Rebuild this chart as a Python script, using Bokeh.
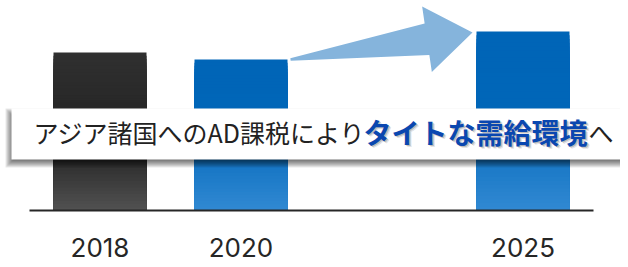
import numpy as np
from bokeh.plotting import figure
from bokeh.models import Range1d, Label
from bokeh.core.properties import value
from bokeh.embed import file_html
from bokeh.resources import INLINE

# ---- data ----
years = ["2018", "2020", "2025"]
positions = [0, 1, 3]          # category slots (gap between 2020 and 2025)
values = [158, 151, 179]       # relative volume (arbitrary units)
bar_kinds = ["dark", "blue", "blue"]
headline_regular = "アジア諸国へのAD課税により"
headline_bold = "タイトな需給環境"
headline_tail = "へ"

# ---- layout ----
PX_X = 141.0
FRAME_W = 620
FRAME_H = 259
BASE_PX = 210
x_start = -99.5 / PX_X
x_end = x_start + FRAME_W / PX_X
y_end = BASE_PX
y_start = BASE_PX - FRAME_H
BAR_W = 93 / PX_X


def dx(page_x):
    return x_start + page_x / PX_X


def dy(page_y):
    return y_end - page_y


def px(xd):
    return (xd - x_start) * PX_X


def py(yd):
    return y_end - yd


def hex2rgb(h):
    h = h.lstrip("#")
    return np.array([int(h[i:i + 2], 16) for i in (0, 2, 4)], dtype=float)


def grad(stops, t):
    for (t0, c0), (t1, c1) in zip(stops, stops[1:]):
        if t0 <= t <= t1:
            f = (t - t0) / (t1 - t0) if t1 > t0 else 0
            c = hex2rgb(c0) * (1 - f) + hex2rgb(c1) * f
            return "#%02x%02x%02x" % tuple(int(round(v)) for v in c)
    return stops[-1][1]


STOPS = {
    "dark": [(0.0, "#303030"), (0.6, "#222222"), (1.0, "#525252")],
    "blue": [(0.0, "#0065b7"), (0.45, "#0066b8"), (1.0, "#3189d2")],
}

p = figure(frame_width=FRAME_W, frame_height=FRAME_H,
           x_range=Range1d(x_start, x_end), y_range=Range1d(y_start, y_end),
           x_axis_location=None, y_axis_location=None,
           toolbar_location=None, output_backend="svg",
           min_border=0, background_fill_color="white", border_fill_color="white")
p.outline_line_color = None
p.grid.visible = False

# ---- gradient bars ----
N = 48
ql, qr, qt, qb, qc = [], [], [], [], []
for pos, v, kind in zip(positions, values, bar_kinds):
    for i in range(N):
        t = (i + 0.5) / N
        ql.append(pos - BAR_W / 2)
        qr.append(pos + BAR_W / 2)
        qb.append(0)
        qt.append(v * (1 - i / N))
        qc.append(grad(STOPS[kind], t))
p.quad(left=ql, right=qr, top=qt, bottom=qb, fill_color=qc, line_color=None)

# ---- baseline ----
margin = 24 / PX_X
p.segment(x0=[min(positions) - BAR_W / 2 - margin], y0=[0],
          x1=[max(positions) + BAR_W / 2 + margin], y1=[0],
          line_color="#262626", line_width=2)

# ---- category labels ----
p.text(x=positions, y=[dy(247)] * len(positions), text=years,
       text_font=value("Inter"), text_font_size="26px", text_color="#262626",
       text_align="center", text_baseline="middle")

# ---- arrow from 2020 top to 2025 top ----
tail = np.array([px(positions[1] + BAR_W / 2) + 3, py(values[1])])
tip = np.array([px(positions[2] - BAR_W / 2) - 4, py(values[2]) + 1])
u = (tip - tail) / np.linalg.norm(tip - tail)
n = np.array([u[1], -u[0]])
base = tip - u * 46
ht, hs, hh = 1.2, 16, 33
pts = [tail + n * ht, base + n * hs, base + n * hh, tip,
       base - n * hh, base - n * hs, tail - n * ht]
p.patch(x=[dx(a[0]) for a in pts], y=[dy(a[1]) for a in pts],
        fill_color="#85b4dc", line_color=None)

# ---- headline box with shadow ----
bl, br, bt, bb = 11, 640, 108, 159
offx, offy = -2, 4
for e in range(-4, 5):
    p.quad(left=[dx(bl + offx - e)], right=[dx(br)], top=[dy(bt + offy - e)],
           bottom=[dy(bb + offy + e)], fill_color="black", fill_alpha=0.085,
           line_color=None)
p.quad(left=[dx(bl)], right=[dx(br)], top=[dy(bt)], bottom=[dy(bb)],
       fill_color="white", line_color=None)

ty = dy(131)
p.add_layout(Label(x=dx(33), y=ty, text=headline_regular, text_font="Noto Sans CJK JP",
                   text_font_size="25px", text_color="#222222", text_baseline="middle"))
for sx, sy, a in [(2.5, 2.5, 0.18), (1.5, 1.5, 0.3)]:
    p.add_layout(Label(x=dx(363 + sx), y=ty - sy, text=headline_bold,
                       text_font="Noto Sans CJK JP", text_font_style="bold",
                       text_font_size="28px", text_color="#555555", text_alpha=a,
                       text_baseline="middle"))
p.add_layout(Label(x=dx(363), y=ty, text=headline_bold, text_font="Noto Sans CJK JP",
                   text_font_style="bold", text_font_size="28px", text_color="#0a47b0",
                   text_baseline="middle"))
p.add_layout(Label(x=dx(588), y=ty, text=headline_tail, text_font="Noto Sans CJK JP",
                   text_font_size="25px", text_color="#222222", text_baseline="middle"))

open("out.html", "w").write(file_html(p, INLINE))
